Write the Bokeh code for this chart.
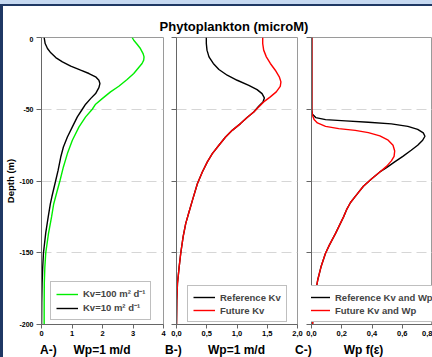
from bokeh.plotting import figure
from bokeh.layouts import row, column
from bokeh.models import Range1d, FixedTicker, Legend, LegendItem, Div
from bokeh.embed import file_html
from bokeh.resources import INLINE

FONT = "Liberation Sans"

# ---------------- data (depth in m, concentration in microM) ----------------
a_black_depth = [0, -4.2, -7.7, -10.7, -14, -17, -20, -22.8, -25.1, -27.4, -29.8, -32.1, -34.9,
                 -39.1, -42.6, -46.5, -50, -55.3, -62.3, -69.3, -76.3, -83.3, -92.6, -99.5, -111,
                 -116, -125, -136, -150, -160, -171, -185, -200]
a_black = [0.087, 0.12, 0.196, 0.305, 0.468, 0.686, 0.958, 1.284, 1.556, 1.774, 1.882, 1.915, 1.882,
           1.774, 1.61, 1.447, 1.338, 1.175, 1.012, 0.849, 0.718, 0.631, 0.544, 0.468, 0.34,
           0.29, 0.22, 0.14, 0.065, 0.04, 0.02, 0.008, 0.003]

a_green_depth = [0, -1.9, -4.7, -7.7, -11.2, -13.5, -15.8, -18.1, -20.9, -25.1, -29.3, -34, -37.9,
                 -42.6, -46.5, -50, -55.3, -62.3, -71.6, -80.9, -90.2, -99.5, -108, -116, -125,
                 -136.5, -150, -160, -171, -185, -200]
a_green = [2.97, 3.025, 3.134, 3.243, 3.33, 3.362, 3.351, 3.297, 3.188, 3.025, 2.807, 2.535, 2.263,
           1.991, 1.774, 1.665, 1.447, 1.23, 1.012, 0.849, 0.718, 0.609, 0.5, 0.4, 0.33,
           0.23, 0.14, 0.11, 0.092, 0.088, 0.087]

b_ref_depth = [0, -4.2, -8.8, -13.5, -18.1, -22.3, -26.3, -29.8, -33.3, -36.3, -39.1, -42.1, -44.9,
               -47.9, -51.9, -55.8, -60, -64.7, -69.3, -75.1, -80.9, -86.7, -93.7, -101.9, -113.5,
               -121.4, -129.5, -138.8, -150, -159.8, -171.4, -183, -200]
b_ref = [0.493, 0.493, 0.504, 0.537, 0.608, 0.701, 0.838, 1.003, 1.195, 1.332, 1.414, 1.452, 1.43,
         1.359, 1.277, 1.167, 1.058, 0.921, 0.811, 0.701, 0.592, 0.51, 0.427, 0.345, 0.263,
         0.208, 0.153, 0.11, 0.071, 0.044, 0.016, 0.005, 0.0]

b_fut_depth = [0, -4.2, -8.8, -13.5, -18.1, -22.8, -27.4, -30.9, -34, -37.9, -41.4, -44.9, -48.4,
               -51.9, -55.8, -60, -64.7, -69.3, -75.1, -80.9, -86.7, -93.7, -101.9, -113.5,
               -121.4, -129.5, -138.8, -150, -159.8, -171.4, -183, -200]
b_fut = [1.425, 1.425, 1.441, 1.485, 1.551, 1.633, 1.699, 1.726, 1.715, 1.649, 1.551, 1.441, 1.359,
         1.277, 1.167, 1.058, 0.921, 0.811, 0.701, 0.592, 0.51, 0.427, 0.345, 0.263,
         0.208, 0.153, 0.11, 0.071, 0.044, 0.016, 0.005, 0.0]

c_ref_depth = [0, -50.7, -53.5, -55.8, -57.2, -58.1, -59.1, -60.2, -61.9, -64, -66.5, -68.8, -71.6,
               -75.1, -78.6, -82.8, -86.7, -90.7, -93.7, -98.4, -103.7, -110, -115, -120, -125,
               -136.5, -144.7, -150.5, -159.8, -169, -178.4, -190, -200]
c_ref = [0.002, 0.002, 0.0065, 0.028, 0.093, 0.224, 0.376, 0.528, 0.637, 0.702, 0.739, 0.75, 0.735,
         0.702, 0.659, 0.604, 0.55, 0.496, 0.452, 0.398, 0.343, 0.295, 0.258, 0.232, 0.212,
         0.159, 0.118, 0.092, 0.063, 0.041, 0.025, 0.012, 0.007]

c_fut_depth = [0, -50.7, -54.2, -57.2, -59.5, -61.9, -63.5, -64.7, -66.3, -68.6, -71.6, -75.1, -79.1,
               -82.8, -86, -89.8, -93.7, -98.4, -103.7, -110, -115, -120, -125,
               -136.5, -144.7, -150.5, -159.8, -169, -178.4, -190, -200]
c_fut = [0.002, 0.002, 0.0065, 0.017, 0.039, 0.093, 0.18, 0.289, 0.376, 0.452, 0.507, 0.539, 0.55,
         0.546, 0.528, 0.496, 0.452, 0.398, 0.343, 0.295, 0.258, 0.232, 0.212,
         0.159, 0.118, 0.092, 0.063, 0.041, 0.025, 0.012, 0.007]

depth_ticks = [0, -50, -100, -150, -200]
depth_labels = ["0", "-50", "-100", "-150", "-200"]
grid_ticks = [-50, -100, -150]
a_ticks = [0, 1, 2, 3, 4]
a_labels = ["0", "1", "2", "3", "4"]
b_ticks = [0, 0.5, 1.0, 1.5, 2.0]
b_labels = ["0,0", "0,5", "1,0", "1,5", "2,0"]
c_ticks = [0, 0.2, 0.4, 0.6, 0.8]
c_labels = ["0,0", "0,2", "0,4", "0,6", "0,8"]

title_text = "Phytoplankton (microM)"
panel_tags = ["A-)", "B-)", "C-)"]
panel_xlabels = ["Wp=1 m/d", "Wp=1 m/d", "Wp f(ε)"]

FIG_H = 305


def make_fig(width, left, right, xmax, ticks, labels, show_ylabels):
    p = figure(width=width, height=FIG_H, x_range=Range1d(0, xmax), y_range=Range1d(-200, 0),
               output_backend="svg", toolbar_location=None,
               min_border_left=left, min_border_right=right, min_border_top=1, min_border_bottom=17)
    p.border_fill_color = None
    p.background_fill_color = "white"
    p.outline_line_color = "#9a9a9a"
    p.xgrid.visible = False
    p.ygrid.ticker = FixedTicker(ticks=grid_ticks)
    p.ygrid.grid_line_color = "#d6d6d6"
    p.ygrid.grid_line_dash = "10 5"
    for ax in (p.xaxis[0], p.yaxis[0]):
        ax.axis_line_color = "#666666"
        ax.major_tick_line_color = "#666666"
        ax.major_tick_in = 0
        ax.minor_tick_line_color = None
        ax.major_label_text_font = FONT
        ax.major_label_text_font_style = "bold"
        ax.major_label_text_color = "black"
    p.xaxis.ticker = FixedTicker(ticks=ticks)
    p.xaxis.major_label_overrides = dict(zip(ticks, labels))
    p.xaxis.major_tick_out = 4
    p.xaxis.major_label_standoff = 2
    p.xaxis.major_label_text_font_size = "7.5px"
    p.yaxis.ticker = FixedTicker(ticks=depth_ticks)
    p.yaxis.major_tick_out = 5
    p.yaxis.major_label_text_font_size = "7px"
    if show_ylabels:
        p.yaxis.major_label_overrides = dict(zip(depth_ticks, depth_labels))
        p.yaxis.major_label_standoff = 3
        p.yaxis.axis_label = "Depth (m)"
        p.yaxis.axis_label_text_font = FONT
        p.yaxis.axis_label_text_font_style = "bold"
        p.yaxis.axis_label_text_font_size = "9.5px"
        p.yaxis.axis_label_text_color = "black"
        p.yaxis.axis_label_standoff = 0
    else:
        p.yaxis.major_label_overrides = {t: "" for t in depth_ticks}
        p.yaxis.major_label_standoff = 0
    return p


def add_legend(p, items, loc):
    leg = Legend(items=items, location=loc, label_text_font=FONT, label_text_font_style="bold",
                 label_text_font_size="9.5px", label_height=12, glyph_height=12, glyph_width=22,
                 label_standoff=5, spacing=1, padding=5, margin=0,
                 border_line_color="#808080", background_fill_color="white", background_fill_alpha=1)
    p.add_layout(leg)


# Panel A
pa = make_fig(169, 41, 6, 4, a_ticks, a_labels, True)
ra_g = pa.line(a_green, a_green_depth, line_color="#00ee00", line_width=1.4)
ra_k = pa.line(a_black, a_black_depth, line_color="black", line_width=1.4)
add_legend(pa, [LegendItem(label="Kv=100 m² d⁻¹", renderers=[ra_g]),
                LegendItem(label="Kv=10 m² d⁻¹", renderers=[ra_k])], (9, 4))

# Panel B
pb = make_fig(134, 7, 6, 2.0, b_ticks, b_labels, False)
rb_k = pb.line(b_ref, b_ref_depth, line_color="black", line_width=1.4)
rb_r = pb.line(b_fut, b_fut_depth, line_color="red", line_width=1.4)
add_legend(pb, [LegendItem(label="Reference Kv", renderers=[rb_k]),
                LegendItem(label="Future Kv", renderers=[rb_r])], (11, 2))

# Panel C
pc = make_fig(129, 8, 0, 0.8, c_ticks, c_labels, False)
rc_k = pc.line(c_ref, c_ref_depth, line_color="black", line_width=1.4)
rc_r = pc.line(c_fut, c_fut_depth, line_color="red", line_width=1.4)
add_legend(pc, [LegendItem(label="Reference Kv and Wp", renderers=[rc_k]),
                LegendItem(label="Future Kv and Wp", renderers=[rc_r])], (-9, 2))

# title and bottom captions as HTML text
font_css = f"font-family:'{FONT}';font-weight:bold;color:black;white-space:nowrap;"
title_div = Div(
    text=(f'<div style="position:relative;width:432px;height:36px;">'
          f'<div style="position:absolute;left:0;top:19px;width:468px;text-align:center;'
          f'font-size:13px;line-height:16px;{font_css}">{title_text}</div></div>'),
    width=432, height=36, margin=0)

tag_left = [40, 165, 295]
lab_box = [(41, 122), (176, 121), (311, 105)]
parts = []
for tag, tl, lab, (bl, bw) in zip(panel_tags, tag_left, panel_xlabels, lab_box):
    parts.append(f'<div style="position:absolute;left:{tl}px;top:1px;font-size:12px;line-height:16px;{font_css}">{tag}</div>')
    parts.append(f'<div style="position:absolute;left:{bl}px;top:1px;width:{bw}px;text-align:center;'
                 f'font-size:12px;line-height:16px;{font_css}">{lab}</div>')
bottom_div = Div(text='<div style="position:relative;width:432px;height:16px;">' + "".join(parts) + "</div>",
                 width=432, height=16, margin=0)

bg = ("linear-gradient(#c6d9f1,#c6d9f1) 0 0/100% 4px no-repeat, "
      "linear-gradient(#1f3864,#1f3864) 0 4px/100% 2px no-repeat, "
      "linear-gradient(#1f3864,#1f3864) 0 0/3px 100% no-repeat, #ffffff")
layout = column(title_div, row(pa, pb, pc, spacing=0), bottom_div, spacing=0,
                styles={"background": bg})

open("out.html", "w").write(file_html(layout, INLINE))
